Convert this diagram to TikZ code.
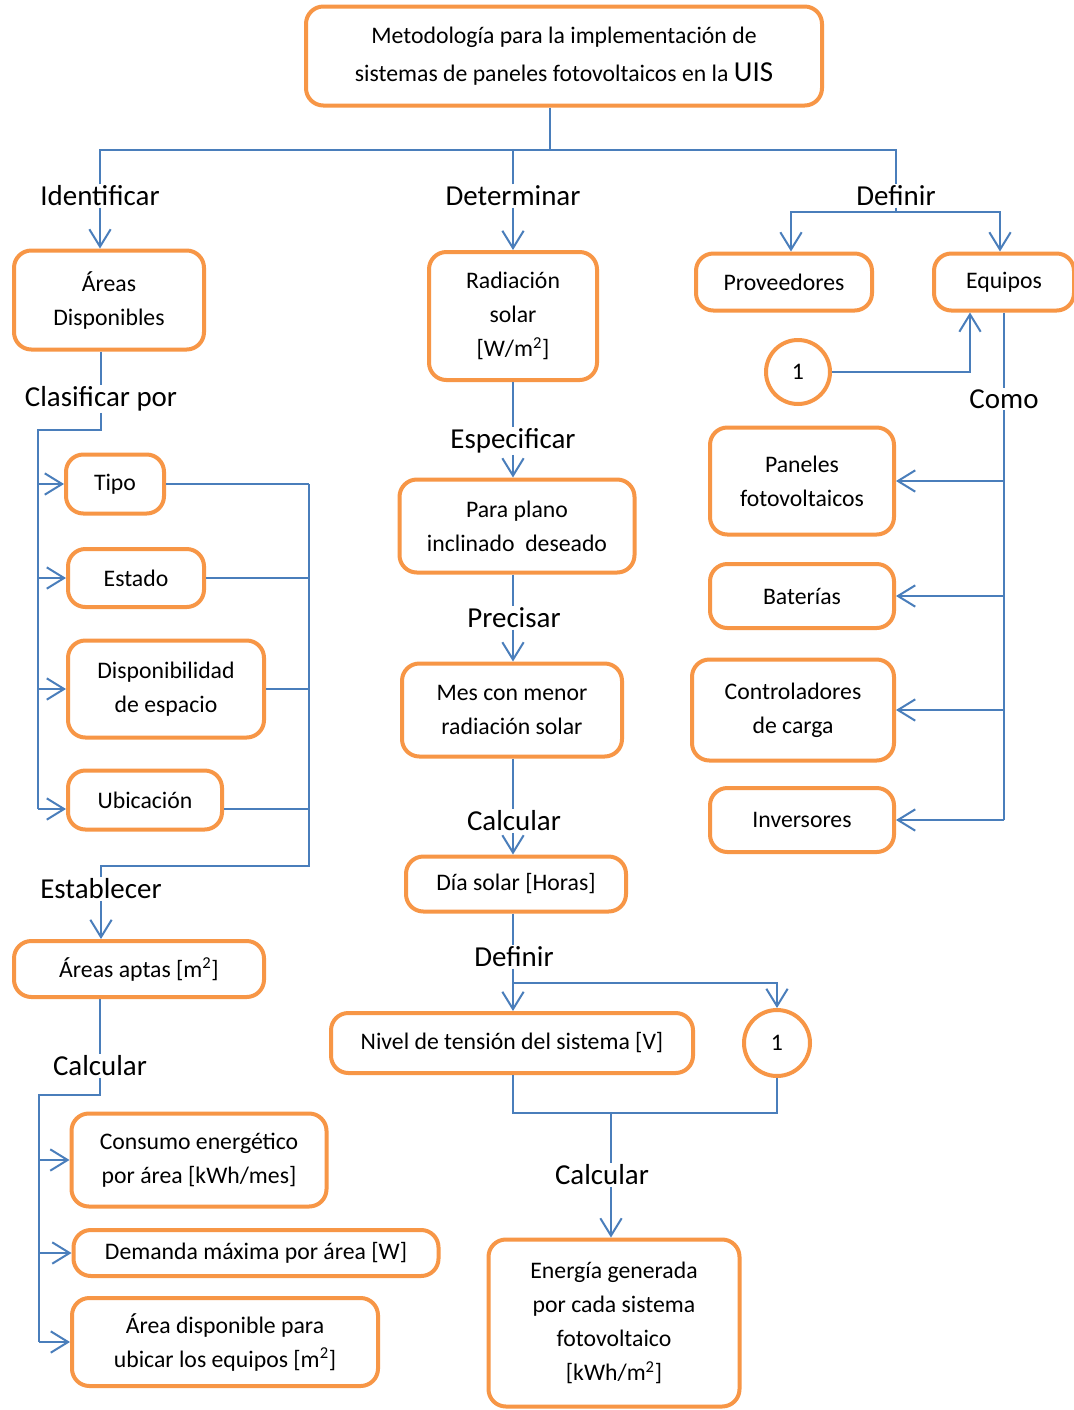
\documentclass[tikz,border=0pt]{standalone}
\usepackage{fontspec}
\setmainfont{Carlito}
\usetikzlibrary{arrows.meta}
\definecolor{boxorange}{RGB}{247,150,70}
\definecolor{linkblue}{RGB}{74,126,187}

\begin{document}
\begin{tikzpicture}[x=0.75pt, y=-0.75pt,
    box/.style={draw=boxorange, line width=3pt, rounded corners=13pt, align=center,
      inner sep=0pt, font=\fontsize{17.8}{25.5}\selectfont},
    numcirc/.style={draw=boxorange, line width=3pt, circle, inner sep=0pt,
      font=\fontsize{17.8}{21}\selectfont},
    lbl/.style={inner sep=1pt, font=\fontsize{21.7}{26}\selectfont},
    conn/.style={draw=linkblue, line width=1.5pt},
    connarr/.style={conn, -{Straight Barb[length=13pt,width=16pt]}}]
    \fill[white] (0,0) rectangle (1074,1410);
    \useasboundingbox (0,0) rectangle (1074,1410);
    % Header and the three branches
    \node[box, minimum width=387pt, minimum height=74.25pt,
      font=\fontsize{17.8}{28.5}\selectfont] (meta) at (564,56)
      {Metodología para la implementación de\\sistemas de paneles fotovoltaicos en la {\fontsize{21.7}{28.5}\selectfont UIS}};
    \node[lbl] (identificar) at (100,196) {Identificar};
    \node[lbl] (determinar) at (513,196) {Determinar};
    \node[lbl] (definirEq) at (896,196) {Definir};
    \coordinate (split) at (550,150);
    \draw[conn] (split |- meta.south) -- (split);
    \draw[conn] (identificar.north) |- (split) -| (definirEq.north);
    \draw[conn] (determinar.north) -- (determinar.north |- split);

    % Left column: areas
    \node[box, minimum width=142.5pt, minimum height=74.25pt] (areas) at (109,300) {Áreas\\Disponibles};
    \draw[connarr] (identificar.south) -- (identificar.south |- areas.north);
    \node[lbl] (clasificar) at (101,399) {Clasificar por};
    \draw[conn] (clasificar.north |- areas.south) -- (clasificar.north);
    \node[box, minimum width=73.5pt, minimum height=44.25pt] (tipo) at (115,484) {Tipo};
    \node[box, minimum width=102pt, minimum height=43.5pt] (estado) at (136,578) {Estado};
    \node[box, minimum width=147pt, minimum height=72.75pt] (dispo) at (166,689) {Disponibilidad\\de espacio};
    \node[box, minimum width=115.5pt, minimum height=44.25pt] (ubicacion) at (145,800) {Ubicación};
    \coordinate (clasif) at (38,430);
    \coordinate (ubicIn) at (66,809);
    \draw[conn] (clasificar.south) |- (clasif) -- (clasif |- ubicIn);
    \foreach \n in {tipo,estado,dispo}
      \draw[connarr] (clasif |- \n.west) -- (\n.west);
    \draw[connarr] (clasif |- ubicIn) -- (ubicIn);
    \coordinate (junta) at (309,866);
    \foreach \n in {tipo,estado,dispo}
      \draw[conn] (\n.east) -- (\n.east -| junta);
    \draw[conn] (ubicacion.east |- ubicIn) -- (junta |- ubicIn);
    \node[lbl] (establecer) at (101,889) {Establecer};
    \draw[conn] (junta |- tipo.east) -- (junta) -| (establecer.north);
    \node[box, minimum width=187.5pt, minimum height=42pt] (aptas) at (139,969) {Áreas aptas [m\textsuperscript{2}]};
    \draw[connarr] (establecer.south) -- (establecer.south |- aptas.north);
    \node[lbl] (calcAreas) at (100,1066) {Calcular};
    \draw[conn] (calcAreas.north |- aptas.south) -- (calcAreas.north);
    \node[box, minimum width=191.25pt, minimum height=69.75pt] (consumo) at (199,1160) {Consumo energético\\por área [kWh/mes]};
    \node[box, minimum width=273.75pt, minimum height=34.5pt] (demanda) at (256,1253) {Demanda máxima por área [W]};
    \node[box, minimum width=229.5pt, minimum height=66pt] (areaequipos) at (225,1342) {Área disponible para\\ubicar los equipos {[}m\textsuperscript{2}{]}};
    \coordinate (calcA) at (39,1095);
    \draw[conn] (calcAreas.south) |- (calcA) -- (calcA |- areaequipos.west);
    \foreach \n in {consumo,demanda,areaequipos}
      \draw[connarr] (calcA |- \n.west) -- (\n.west);

    % Middle column: solar resource
    \node[box, minimum width=126pt, minimum height=96pt] (radiacion) at (513,316) {Radiación\\solar\\{[}W/m\textsuperscript{2}{]}};
    \draw[connarr] (determinar.south) -- (radiacion.north);
    \node[lbl] (especificar) at (513,441) {Especificar};
    \draw[conn] (radiacion.south) -- (especificar.north);
    \node[box, minimum width=176.25pt, minimum height=69.75pt] (plano) at (517,526) {Para plano\\inclinado\ \ deseado};
    \draw[connarr] (especificar.south) -- (especificar.south |- plano.north);
    \node[lbl] (precisar) at (514,618) {Precisar};
    \draw[conn] (especificar.south |- plano.south) -- (especificar.south |- precisar.north);
    \node[box, minimum width=165pt, minimum height=69.75pt] (mes) at (512,710) {Mes con menor\\radiación solar};
    \draw[connarr] (especificar.south |- precisar.south) -- (especificar.south |- mes.north);
    \node[lbl] (calcDia) at (514,821) {Calcular};
    \draw[conn] (especificar.south |- mes.south) -- (especificar.south |- calcDia.north);
    \node[box, minimum width=165pt, minimum height=41.25pt] (dia) at (516,884) {Día solar [Horas]};
    \draw[connarr] (especificar.south |- calcDia.south) -- (especificar.south |- dia.north);
    \node[lbl] (definirV) at (514,957) {Definir};
    \draw[conn] (especificar.south |- dia.south) -- (especificar.south |- definirV.north);
    \node[box, minimum width=271.5pt, minimum height=45pt] (nivel) at (512,1043) {Nivel de tensión del sistema [V]};
    \node[numcirc, minimum size=49.5pt] (unoB) at (777,1043) {1};
    \coordinate (tens) at (513,983);
    \draw[connarr] (tens |- definirV.south) -- (tens |- nivel.north);
    \draw[connarr] (tens) -| (unoB.north);
    \coordinate (suma) at (611,1113);
    \draw[conn] (tens |- nivel.south) |- (suma) -| (unoB.south);
    \node[lbl] (calcEnergia) at (602,1175) {Calcular};
    \draw[conn] (suma) -- (suma |- calcEnergia.north);
    \node[box, minimum width=188.25pt, minimum height=125.25pt] (energia) at (614,1323) {Energía generada\\por cada sistema\\fotovoltaico\\{[}kWh/m\textsuperscript{2}{]}};
    \draw[connarr] (suma |- calcEnergia.south) -- (suma |- energia.north);

    % Right column: suppliers and equipment
    \node[box, minimum width=132pt, minimum height=42.75pt] (proveedores) at (784,282) {Proveedores};
    \node[box, minimum width=105pt, minimum height=42.75pt] (equipos) at (1004,282) {Equipos};
    \coordinate (defEq) at (896,212);
    \draw[conn] (definirEq.south) -- (defEq);
    \draw[connarr] (defEq) -| ([xshift=5.25pt]proveedores.north);
    \draw[connarr] (defEq) -| ([xshift=-3pt]equipos.north);
    \node[numcirc, minimum size=48pt] (unoA) at (798,372) {1};
    \draw[connarr] (unoA.east) -| ([xshift=-25.5pt]equipos.south);
    \node[lbl] (como) at (1004,399) {Como};
    \draw[conn] (equipos.south) -- (como.north);
    \node[box, minimum width=138pt, minimum height=80.25pt] (paneles) at (802,481) {Paneles\\fotovoltaicos};
    \node[box, minimum width=138pt, minimum height=48pt] (baterias) at (802,596) {Baterías};
    \node[box, minimum width=151.5pt, minimum height=75.75pt] (controladores) at (793,710) {Controladores\\de carga};
    \node[box, minimum width=138pt, minimum height=48pt] (inversores) at (802,820) {Inversores};
    \draw[conn] (como.south) -- (como.south |- inversores.east);
    \foreach \n in {paneles,baterias,controladores,inversores}
      \draw[connarr] (como.south |- \n.east) -- (\n.east);
\end{tikzpicture}
\end{document}
